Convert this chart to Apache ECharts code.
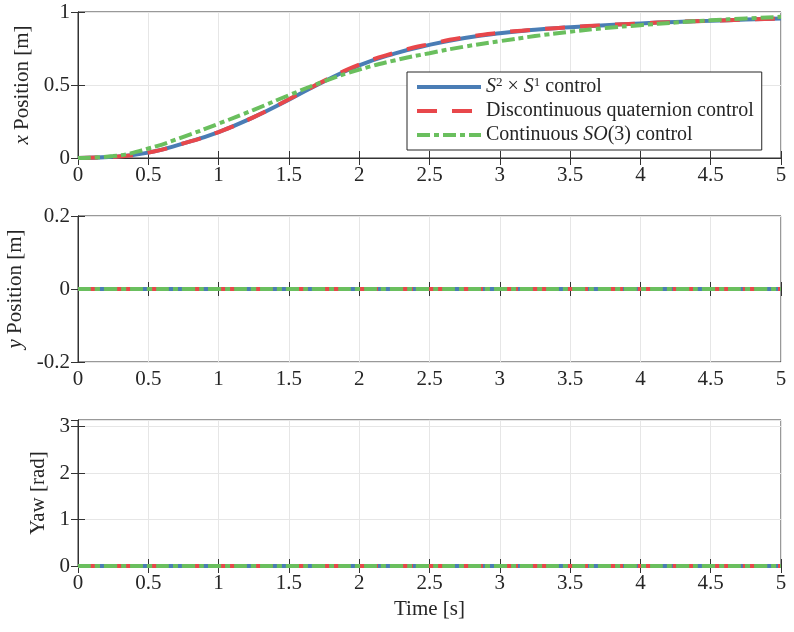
<!DOCTYPE html>
<html>
<head>
<meta charset="utf-8">
<script src="https://cdn.jsdelivr.net/npm/echarts@6/dist/echarts.min.js"></script>
<style>
  html, body { margin: 0; padding: 0; background: #fff; }
  #chart { width: 794px; height: 632px; }
</style>
</head>
<body>
<div id="chart"></div>
<script>
(function() {
    'use strict';

    // time samples [s]
    var time = [0, 0.25, 0.5, 0.75, 1, 1.25, 1.5, 1.75, 2, 2.25, 2.5, 2.75, 3, 3.25, 3.5, 3.75, 4, 4.25, 4.5, 4.75, 5];

    // x position [m]
    var xS2S1  = [0, 0.008, 0.037, 0.100, 0.178, 0.280, 0.400, 0.525, 0.635, 0.715, 0.775, 0.822, 0.855, 0.878, 0.895, 0.910, 0.922, 0.932, 0.940, 0.948, 0.955];
    var xQuat  = [0, 0.008, 0.037, 0.100, 0.178, 0.280, 0.402, 0.528, 0.640, 0.720, 0.780, 0.826, 0.858, 0.880, 0.896, 0.910, 0.922, 0.932, 0.940, 0.948, 0.955];
    var xSO3   = [0, 0.013, 0.065, 0.145, 0.235, 0.330, 0.430, 0.525, 0.605, 0.668, 0.718, 0.763, 0.800, 0.835, 0.865, 0.890, 0.910, 0.928, 0.943, 0.956, 0.967];

    // y position [m] and yaw [rad] stay at zero
    var yAll   = [0, 0, 0, 0, 0, 0, 0, 0, 0, 0, 0, 0, 0, 0, 0, 0, 0, 0, 0, 0, 0];
    var yawAll = [0, 0, 0, 0, 0, 0, 0, 0, 0, 0, 0, 0, 0, 0, 0, 0, 0, 0, 0, 0, 0];

    var names = ['S2xS1', 'Quat', 'SO3'];
    var colors = ['#4a7db5', '#e8474b', '#6abf5e'];
    var dashes = ['solid', [20, 15], [13, 4, 5, 4]];

    var FONT = 'Liberation Serif';
    var AX = '#333333';

    function pairs(ys) {
        return time.map(function(t, i) { return [t, ys[i]]; });
    }

    var grids = [
        { left: 78, right: 13, top: 12, height: 146 },
        { left: 78, right: 13, top: 216, height: 146 },
        { left: 78, right: 13, top: 420, height: 146 }
    ];
    grids.forEach(function(g) {
        g.show = true; g.borderColor = AX; g.borderWidth = 1;
        g.containLabel = false; g.outerBoundsMode = 'none';
    });

    var xAxes = [], yAxes = [];
    var yCfg = [
        { min: 0, max: 1, interval: 0.5, name: '{i|x} Position [m]', gap: 42 },
        { min: -0.2, max: 0.2, interval: 0.2, name: '{i|y} Position [m]', gap: 50 },
        { min: 0, max: Math.PI, interval: 1, name: 'Yaw [rad]', gap: 28 }
    ];
    for (var k = 0; k < 3; k++) {
        xAxes.push({
            gridIndex: k, type: 'value', min: 0, max: 5, interval: 0.5, position: 'bottom',
            axisLine: { show: true, lineStyle: { color: AX } },
            axisTick: { show: true, inside: true, length: 7, lineStyle: { color: AX } },
            axisLabel: { color: '#262626', fontFamily: FONT, fontSize: 21, margin: 7 },
            splitLine: { show: true, lineStyle: { color: '#e6e6e6' } },
            name: k === 2 ? 'Time [s]' : '', nameLocation: 'middle', nameGap: 33,
            nameTextStyle: { color: '#262626', fontFamily: FONT, fontSize: 21 }
        });
        xAxes.push({
            gridIndex: k, type: 'value', min: 0, max: 5, interval: 0.5, position: 'top',
            axisLine: { show: true, lineStyle: { color: AX } },
            axisTick: { show: true, inside: true, length: 7, lineStyle: { color: AX } },
            axisLabel: { show: false }, splitLine: { show: false }
        });
        var c = yCfg[k];
        yAxes.push({
            gridIndex: k, type: 'value', min: c.min, max: c.max, interval: c.interval, position: 'left',
            axisLine: { show: true, lineStyle: { color: AX } },
            axisTick: { show: true, inside: true, length: 7, lineStyle: { color: AX } },
            axisLabel: { color: '#262626', fontFamily: FONT, fontSize: 21, margin: 8 },
            splitLine: { show: true, lineStyle: { color: '#e6e6e6' } },
            name: c.name, nameLocation: 'middle', nameGap: c.gap, nameRotate: 90,
            nameTextStyle: {
                color: '#262626', fontFamily: FONT, fontSize: 21,
                rich: { i: { fontFamily: FONT, fontStyle: 'italic', fontSize: 21, color: '#262626' } }
            }
        });
        yAxes.push({
            gridIndex: k, type: 'value', min: c.min, max: c.max, interval: c.interval, position: 'right',
            axisLine: { show: true, lineStyle: { color: AX } },
            axisTick: { show: true, inside: true, length: 7, lineStyle: { color: AX } },
            axisLabel: { show: false }, splitLine: { show: false }
        });
    }

    var panels = [[xS2S1, xQuat, xSO3], [yAll, yAll, yAll], [yawAll, yawAll, yawAll]];
    var series = [];
    panels.forEach(function(p, k) {
        p.forEach(function(ys, s) {
            series.push({
                name: names[s], type: 'line', xAxisIndex: 2 * k, yAxisIndex: 2 * k,
                data: pairs(ys), smooth: true, symbol: 'none', animation: false,
                lineStyle: { color: colors[s], width: 4, type: dashes[s] },
                itemStyle: { color: colors[s] },
                z: 2 + s
            });
        });
    });

    var legendText = {
        'S2xS1': '{i|S}{sup|2} × {i|S}{sup|1} control',
        'Quat': 'Discontinuous quaternion control',
        'SO3': 'Continuous {i|SO}(3) control'
    };

    var option = {
        backgroundColor: '#fff',
        animation: false,
        grid: grids,
        xAxis: xAxes,
        yAxis: yAxes,
        legend: {
            data: names, orient: 'vertical', left: 407, top: 72,
            backgroundColor: '#fff', borderColor: '#262626', borderWidth: 1,
            padding: [4, 8, 4, 8], itemWidth: 64, itemHeight: 14, itemGap: 2,
            itemStyle: { opacity: 0 },
            lineStyle: { width: 4 },
            formatter: function(n) { return legendText[n]; },
            textStyle: {
                color: '#262626', fontFamily: FONT, fontSize: 20, lineHeight: 22,
                rich: {
                    i: { fontFamily: FONT, fontStyle: 'italic', fontSize: 20, color: '#262626' },
                    sup: { fontFamily: FONT, fontSize: 13, color: '#262626', verticalAlign: 'top', padding: [0, 0, 8, 0] }
                }
            }
        },
        series: series
    };

    var myChart = echarts.init(document.getElementById('chart'));
    myChart.setOption(option);
})();
</script>
</body>
</html>
